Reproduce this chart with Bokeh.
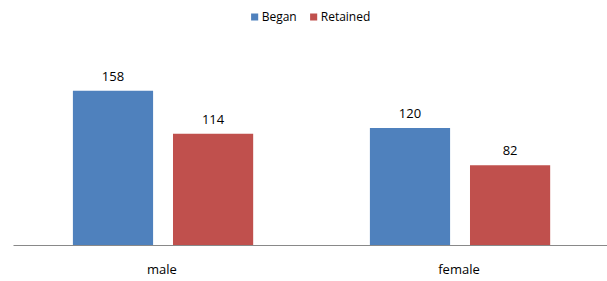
from bokeh.plotting import figure
from bokeh.models import ColumnDataSource, LabelSet, Legend, LegendItem, FactorRange, Range1d
from bokeh.transform import dodge
from bokeh.core.properties import value
from bokeh.embed import file_html
from bokeh.resources import INLINE

categories = ["male", "female"]
began = [158, 120]
retained = [114, 82]
series_names = ["Began", "Retained"]

BLUE = "#4F81BD"
RED = "#C0504D"
FONT = "Open Sans"

src = ColumnDataSource(dict(cat=categories, began=began, retained=retained,
                            began_txt=[str(v) for v in began],
                            ret_txt=[str(v) for v in retained]))

p = figure(x_range=FactorRange(*categories, range_padding=0), y_range=Range1d(0, 242),
           width=607, height=281, output_backend="svg", toolbar_location=None,
           min_border_left=13, min_border_right=0, min_border_top=8, min_border_bottom=36)

r1 = p.vbar(x=dodge("cat", -0.165, range=p.x_range), top="began", width=0.27,
            source=src, fill_color=BLUE, line_color=None)
r2 = p.vbar(x=dodge("cat", 0.172, range=p.x_range), top="retained", width=0.27,
            source=src, fill_color=RED, line_color=None)

for col, txt, off in [("began", "began_txt", -0.165), ("retained", "ret_txt", 0.172)]:
    p.add_layout(LabelSet(x=dodge("cat", off, range=p.x_range), y=col, text=txt, source=src,
                          y_offset=10, text_align="center", text_baseline="bottom",
                          text_font=value(FONT), text_font_size="13px", text_color="#000000"))

legend = Legend(items=[LegendItem(label=series_names[0], renderers=[r1]),
                       LegendItem(label=series_names[1], renderers=[r2])],
                orientation="horizontal", location="top_center",
                label_text_font=FONT, label_text_font_size="12px", label_text_color="#000000",
                glyph_width=9, glyph_height=9, spacing=12, padding=0, margin=0,
                label_standoff=3, border_line_color=None, background_fill_alpha=0)
p.add_layout(legend)

p.yaxis.visible = False
p.xgrid.grid_line_color = None
p.ygrid.grid_line_color = None
p.outline_line_color = None
p.xaxis.axis_line_color = "#898989"
p.xaxis.major_tick_line_color = None
p.xaxis.minor_tick_line_color = None
p.xaxis.major_tick_out = 0
p.xaxis.major_label_standoff = 14
p.xaxis.major_label_text_font = FONT
p.xaxis.major_label_text_font_size = "13px"
p.xaxis.major_label_text_color = "#000000"

open("out.html", "w").write(file_html(p, INLINE))
